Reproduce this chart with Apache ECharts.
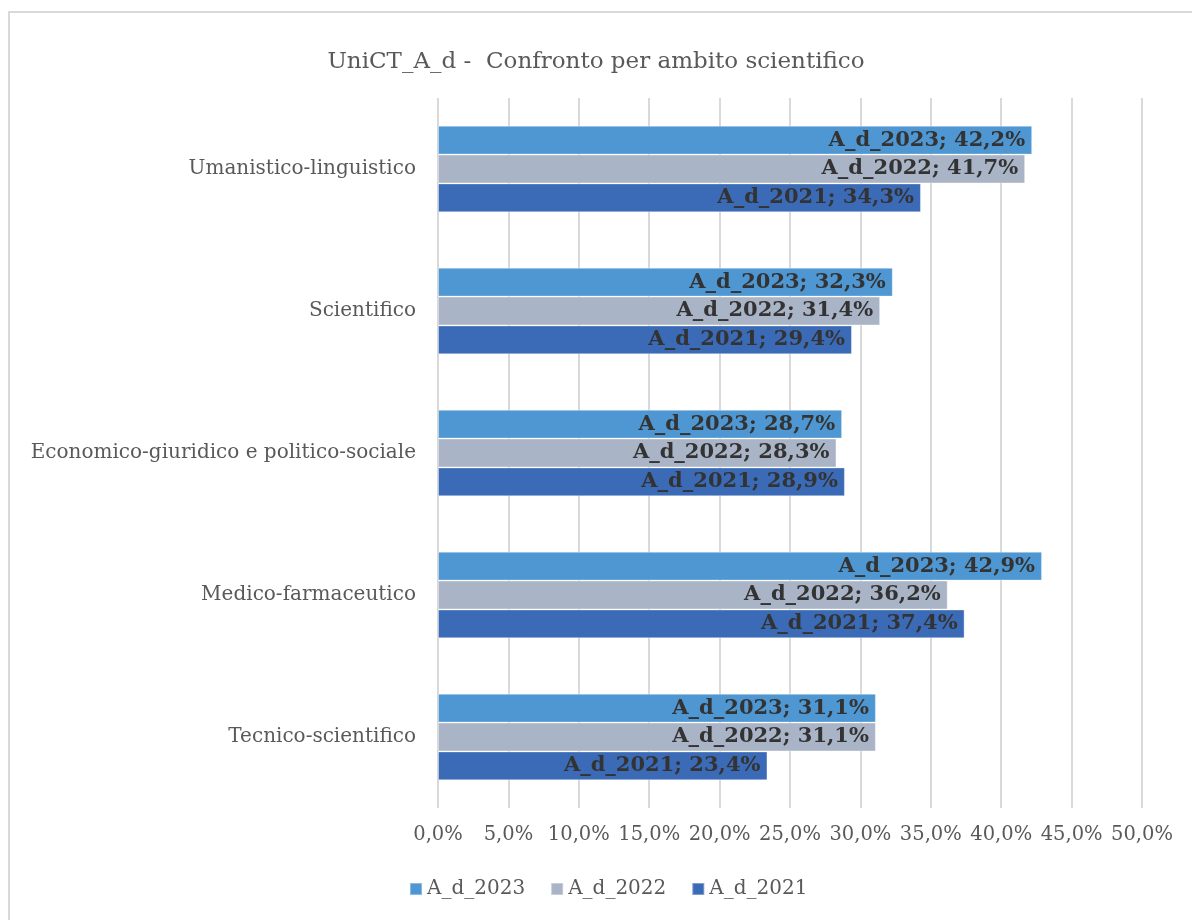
<!DOCTYPE html>
<html>
<head>
<meta charset="utf-8">
<script src="https://cdn.jsdelivr.net/npm/echarts@6/dist/echarts.min.js"></script>
<style>
  html, body { margin: 0; padding: 0; background: #fff; }
  #chart { width: 1192px; height: 920px; }
</style>
</head>
<body>
<div id="chart"></div>
<script>
// categories, top to bottom
const ambiti = [
  'Umanistico-linguistico',
  'Scientifico',
  'Economico-giuridico e politico-sociale',
  'Medico-farmaceutico',
  'Tecnico-scientifico'
]
const serieNomi = ['A_d_2023', 'A_d_2022', 'A_d_2021']
const valori2023 = [42.2, 32.3, 28.7, 42.9, 31.1]
const valori2022 = [41.7, 31.4, 28.3, 36.2, 31.1]
const valori2021 = [34.3, 29.4, 28.9, 37.4, 23.4]
const colori = ['#4f97d2', '#a9b4c7', '#3b6bb6']

const font = '"DejaVu Serif", serif'
const fmt = v => v.toFixed(1).replace('.', ',') + '%'

const myChart = echarts.init(document.getElementById('chart'))

const makeSerie = (nome, dati, i) => ({
  name: nome,
  type: 'bar',
  data: dati,
  barGap: '0%',
  barCategoryGap: '39%',
  itemStyle: { color: colori[i], borderColor: 'rgba(255,255,255,0.35)', borderWidth: 1 },
  label: {
    show: true,
    position: 'insideRight',
    distance: 7,
    fontFamily: font,
    fontWeight: 'bold',
    fontSize: 21,
    color: '#333333',
    formatter: p => p.seriesName + '; ' + fmt(p.value)
  }
})

const option = {
  animation: false,
  title: {
    text: 'UniCT_A_d -  Confronto per ambito scientifico',
    left: 'center',
    top: 46,
    textStyle: { fontFamily: font, fontWeight: 'normal', fontSize: 23, color: '#595959' }
  },
  legend: {
    data: serieNomi,
    bottom: 16,
    left: 404,
    itemWidth: 12,
    itemHeight: 12,
    itemGap: 25,
    icon: 'rect',
    textStyle: { fontFamily: font, fontSize: 20, color: '#595959' }
  },
  grid: { left: 438, right: 50, top: 98, bottom: 112 },
  xAxis: {
    type: 'value',
    min: 0,
    max: 50,
    interval: 5,
    axisLine: { show: false },
    axisTick: { show: false },
    splitLine: { lineStyle: { color: '#d9d9d9', width: 2 } },
    axisLabel: {
      margin: 17,
      fontFamily: font,
      fontSize: 19.5,
      color: '#595959',
      formatter: v => fmt(v)
    }
  },
  yAxis: {
    type: 'category',
    data: ambiti,
    inverse: true,
    axisLine: { show: false },
    axisTick: { show: false },
    axisLabel: { margin: 22, fontFamily: font, fontSize: 20, color: '#595959' }
  },
  graphic: [{
    type: 'rect',
    shape: { x: 9, y: 12, width: 1200, height: 920 },
    style: { fill: 'none', stroke: '#d9d9d9', lineWidth: 2 },
    silent: true
  }],
  series: [
    makeSerie(serieNomi[0], valori2023, 0),
    makeSerie(serieNomi[1], valori2022, 1),
    makeSerie(serieNomi[2], valori2021, 2)
  ]
}

myChart.setOption(option)
</script>
</body>
</html>
